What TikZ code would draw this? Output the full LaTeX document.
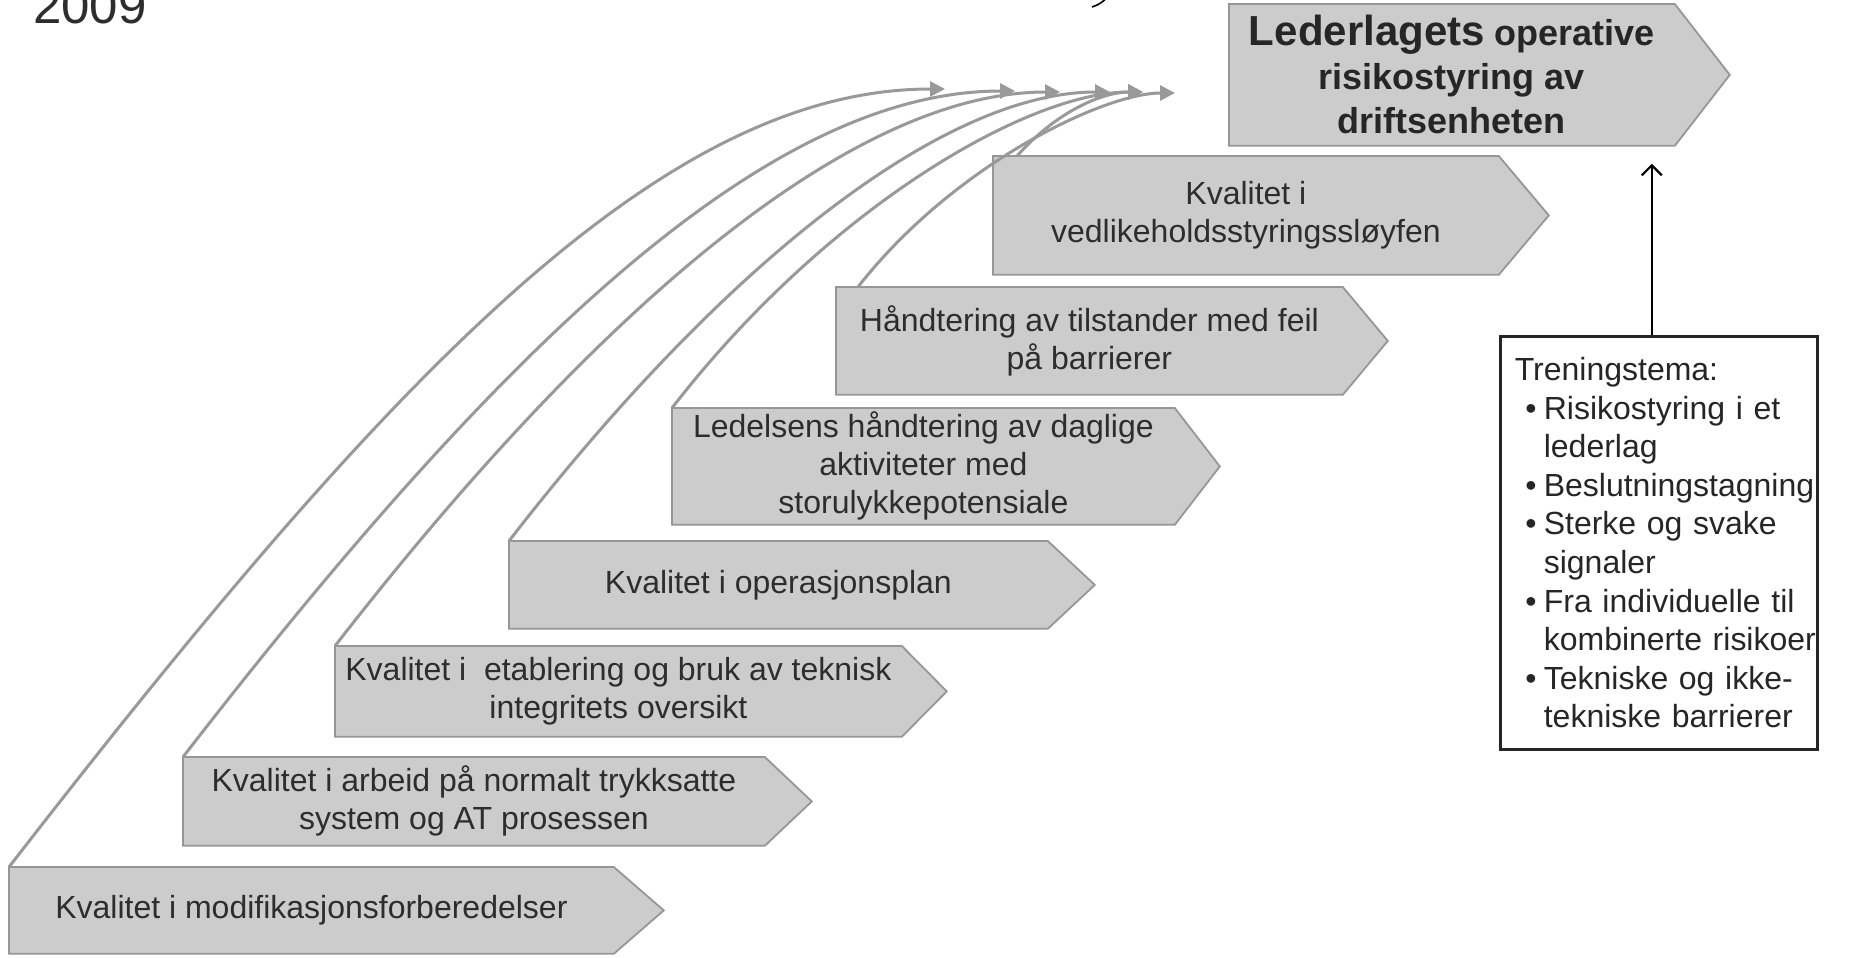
\documentclass[tikz,border=0pt]{standalone}
\usepackage{fontspec}
\setmainfont{Liberation Sans}
\usetikzlibrary{arrows.meta,backgrounds}

\definecolor{stagefill}{RGB}{204,204,204}
\definecolor{stageline}{RGB}{150,150,150}
\definecolor{flowgray}{RGB}{153,153,153}
\definecolor{textdark}{RGB}{45,45,45}
\definecolor{titledark}{RGB}{38,38,38}
\newcommand{\tbul}{\hspace*{12pt}\makebox[9.25pt][l]{•}}
\newcommand{\tind}{\hspace*{21.25pt}}

\begin{document}
\begin{tikzpicture}[x=0.5pt,y=-0.5pt,
    stage node/.style={rectangle,anchor=north west,align=center,inner sep=0pt,
      text=textdark,font=\fontsize{16}{19}\selectfont},
    stage shape/.style={fill=stagefill,draw=stageline,line width=0.9pt,line join=miter},
    flow line/.style={draw=flowgray,line width=1.5pt,-{Triangle[length=7.5pt,width=7.5pt]}},
    theme node/.style={rectangle,draw=titledark,line width=1.3pt,anchor=north west,
      align=left,text width=157.5pt,inner xsep=0.5pt,text=titledark,
      font=\fontsize{16}{19.3}\selectfont},
    theme arrow/.style={draw=black,line width=1.1pt,-{Straight Barb[length=5pt,width=10pt]}}]

    \useasboundingbox (0,0) rectangle (1849,958);

    \node[anchor=base west,text=textdark,font=\fontsize{25.5}{30}\selectfont] (year) at (26,24) {2009};

    % stages, bottom to top
    \node[stage node,minimum width=302pt,minimum height=43pt] (s1) at (9,867)
        {Kvalitet i modifikasjonsforberedelser};
    \node[stage node,minimum width=290.5pt,minimum height=44pt] (s2) at (183,757)
        {Kvalitet i arbeid på normalt trykksatte\\system og AT prosessen};
    \node[stage node,minimum width=283pt,minimum height=45pt] (s3) at (335,646)
        {Kvalitet i\ \ etablering og bruk av teknisk\\integritets oversikt};
    \node[stage node,minimum width=269pt,minimum height=43.5pt] (s4) at (509,541)
        {Kvalitet i operasjonsplan};
    \node[stage node,minimum width=251pt,minimum height=58pt] (s5) at (672,408)
        {Ledelsens håndtering av daglige\\aktiviteter med\\storulykkepotensiale};
    \node[stage node,minimum width=253pt,minimum height=53.5pt] (s6) at (836,287)
        {Håndtering av tilstander med feil\\på barrierer};
    \node[stage node,minimum width=252.5pt,minimum height=59pt] (s7) at (993,156)
        {Kvalitet i\\vedlikeholdsstyringssløyfen};
    \node[stage node,minimum width=222.5pt,minimum height=70.5pt,text=titledark,
        font=\bfseries\fontsize{18}{22}\selectfont] (s8) at (1229,4)
        {{\fontsize{21}{22}\selectfont Lederlagets} operative\\risikostyring av\\driftsenheten};

    \begin{pgfonlayer}{background}
    \filldraw[stage shape] (s1.north west) -- (s1.north east) -- ([xshift=25pt]s1.east) -- (s1.south east) -- (s1.south west) -- cycle;
    \filldraw[stage shape] (s2.north west) -- (s2.north east) -- ([xshift=23.5pt]s2.east) -- (s2.south east) -- (s2.south west) -- cycle;
    \filldraw[stage shape] (s3.north west) -- (s3.north east) -- ([xshift=22.5pt]s3.east) -- (s3.south east) -- (s3.south west) -- cycle;
    \filldraw[stage shape] (s4.north west) -- (s4.north east) -- ([xshift=23.5pt]s4.east) -- (s4.south east) -- (s4.south west) -- cycle;
    \filldraw[stage shape] (s5.north west) -- (s5.north east) -- ([xshift=22.5pt]s5.east) -- (s5.south east) -- (s5.south west) -- cycle;
    \filldraw[stage shape] (s6.north west) -- (s6.north east) -- ([xshift=22.5pt]s6.east) -- (s6.south east) -- (s6.south west) -- cycle;
    \filldraw[stage shape] (s7.north west) -- (s7.north east) -- ([xshift=25pt]s7.east) -- (s7.south east) -- (s7.south west) -- cycle;
    \filldraw[stage shape] (s8.north west) -- (s8.north east) -- ([xshift=27.5pt]s8.east) -- (s8.south east) -- (s8.south west) -- cycle;
    \end{pgfonlayer}

    % arrow ends
    \coordinate (e1) at (945,89);
    \coordinate (e2) at (1015,91);
    \coordinate (e3) at (1060,92);
    \coordinate (e4) at (1110,92);
    \coordinate (e5) at (1143,92);
    \coordinate (e6) at (1175,93);

    \draw[flow line] (s1.north west) .. controls +(380,-490) and +(-285,0) .. (e1);
    \draw[flow line] (s2.north west) .. controls +(325,-420) and +(-244,0) .. (e2);
    \draw[flow line] (s3.north west) .. controls +(271,-349) and +(-203,0) .. (e3);
    \draw[flow line] (s4.north west) .. controls +(219,-283) and +(-164,0) .. (e4);
    \draw[flow line] (s5.north west) .. controls +(154,-199) and +(-116,0) .. (e5);
    \draw[flow line] ([xshift=11pt]s6.north west) .. controls +(95,-122) and +(-71,0) .. (e6);
    \draw[flow line] ([xshift=12pt]s7.north west) .. controls +(40,-45) and +(-40,0) .. (e5);

    \draw[black,line width=0.8pt] (1092,7) .. controls (1100,4) .. (1109,-4);

    % training themes
    \node[theme node,minimum width=158.5pt,minimum height=206.5pt] (tema) at (1499,335)
        {\hspace*{6.75pt}Treningstema:\\
         \tbul Risikostyring i et\\
         \tind lederlag\\
         \tbul Beslutningstagning\\
         \tbul Sterke og svake\\
         \tind signaler\\
         \tbul Fra individuelle til\\
         \tind kombinerte risikoer\\
         \tbul Tekniske og ikke-\\
         \tind tekniske barrierer};

    \coordinate (up) at ([xshift=-3.5pt]tema.north);
    \draw[theme arrow,shorten >=9pt] (up) -- (up |- s8.south);
\end{tikzpicture}
\end{document}
